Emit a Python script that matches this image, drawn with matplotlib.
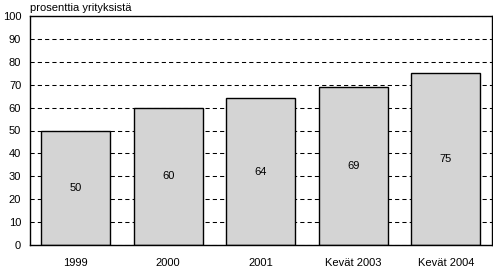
import matplotlib
matplotlib.use("Agg")
import matplotlib.pyplot as plt

categories = ["1999", "2000", "2001", "Kevät 2003", "Kevät 2004"]
values = [50, 60, 64, 69, 75]
yticks = [0, 10, 20, 30, 40, 50, 60, 70, 80, 90, 100]
ylabel = "prosenttia yrityksistä"

plt.rcParams['font.family'] = ['Liberation Sans', 'DejaVu Sans']
fig = plt.figure(figsize=(4.93, 2.66), dpi=100)
ax = fig.add_axes([29.5/493, 21/266, (492-29.5)/493, (245-16)/266])
x = list(range(len(categories)))
ax.set_axisbelow(True)
ax.yaxis.grid(True, linestyle=(0, (4, 3)), color='black', linewidth=0.75)
ax.bar(x, values, width=0.75, color='#d4d4d4', edgecolor='black', linewidth=1.0, zorder=2)
for xi, v in zip(x, values):
    ax.text(xi, v/2, str(v), ha='center', va='center', fontsize=8, zorder=3)
ax.set_xlim(-0.5, len(categories)-0.5)
ax.set_ylim(0, 100)
ax.set_yticks(yticks)
ax.set_xticks(x)
ax.set_xticklabels(categories)
ax.tick_params(axis='both', length=0, labelsize=8)
ax.tick_params(axis='x', pad=9)
ax.tick_params(axis='y', pad=6)
for s in ax.spines.values():
    s.set_linewidth(1.0)
ax.text(0, 1.012, ylabel, transform=ax.transAxes, ha='left', va='bottom', fontsize=8)
fig.savefig("out.png", dpi=100)
